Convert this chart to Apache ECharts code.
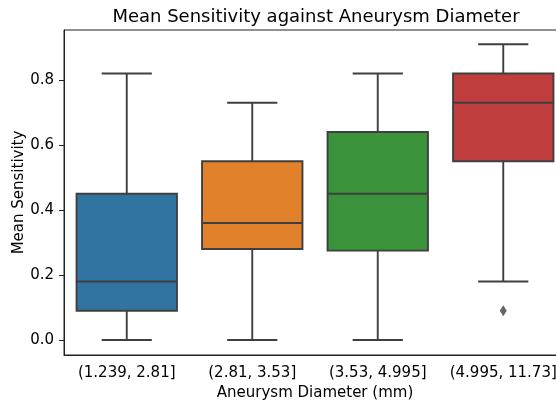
<!DOCTYPE html>
<html>
<head>
<meta charset="utf-8">
<script src="https://cdn.jsdelivr.net/npm/echarts@6/dist/echarts.min.js"></script>
<style>html,body{margin:0;padding:0;background:#fff}#c{width:556px;height:403px}</style>
</head>
<body>
<div id="c"></div>
<script>
const categories = ['(1.239, 2.81]', '(2.81, 3.53]', '(3.53, 4.995]', '(4.995, 11.73]'];
const whiskerLow  = [0.0, 0.0, 0.0, 0.18];
const q1          = [0.09, 0.28, 0.275, 0.55];
const median      = [0.18, 0.36, 0.45, 0.73];
const q3          = [0.45, 0.55, 0.64, 0.82];
const whiskerHigh = [0.82, 0.73, 0.82, 0.91];
const outliers    = [[3, 0.09]];
const yTicks      = [0.0, 0.2, 0.4, 0.6, 0.8];
const boxColors   = ['#3274a1', '#e1812c', '#3a923a', '#c03d3e'];

const lineColor = '#3f3f3f';
const font = 'DejaVu Sans';

const boxData = categories.map((c, i) => [i, whiskerLow[i], q1[i], median[i], q3[i], whiskerHigh[i]]);

const chart = echarts.init(document.getElementById('c'), null, {renderer: 'canvas'});
chart.setOption({
  animation: false,
  backgroundColor: '#fff',
  title: {
    text: 'Mean Sensitivity against Aneurysm Diameter',
    left: 311, top: 3, textAlign: 'center',
    textStyle: {fontFamily: font, fontSize: 18, fontWeight: 'normal', color: '#000'}
  },
  grid: {left: 64, top: 30, width: 502, height: 325, outerBoundsMode: 'none', containLabel: false,
    show: true, borderColor: '#222', borderWidth: 1, backgroundColor: 'transparent'},
  xAxis: {
    type: 'category', data: categories, boundaryGap: true,
    name: 'Aneurysm Diameter (mm)', nameLocation: 'middle', nameGap: 31, nameMoveOverlap: false,
    nameTextStyle: {fontFamily: font, fontSize: 15, color: '#000'},
    axisLine: {onZero: false, lineStyle: {color: '#222', width: 1}},
    axisTick: {alignWithLabel: true, length: 5, lineStyle: {color: '#222'}},
    axisLabel: {fontFamily: font, fontSize: 15, color: '#000', margin: 11, interval: 0},
    splitLine: {show: false}
  },
  yAxis: {
    type: 'value', min: -0.04615, max: 0.9538,
    name: 'Mean Sensitivity', nameLocation: 'middle', nameGap: 37, nameMoveOverlap: false,
    nameTextStyle: {fontFamily: font, fontSize: 15, color: '#000'},
    axisLine: {show: true, onZero: false, lineStyle: {color: '#222', width: 1}},
    axisTick: {show: true, length: 5, lineStyle: {color: '#222'}, customValues: yTicks},
    axisLabel: {fontFamily: font, fontSize: 15, color: '#000', margin: 10, customValues: yTicks,
      formatter: v => v.toFixed(1)},
    splitLine: {show: false}
  },
  series: [
    {
      type: 'custom',
      data: boxData,
      encode: {x: 0, y: [1, 2, 3, 4, 5]},
      renderItem: function (params, api) {
        const i = api.value(0);
        const pLow = api.coord([i, api.value(1)]);
        const pQ1 = api.coord([i, api.value(2)]);
        const pMed = api.coord([i, api.value(3)]);
        const pQ3 = api.coord([i, api.value(4)]);
        const pHigh = api.coord([i, api.value(5)]);
        const band = api.size([1, 0])[0];
        const bw = band * 0.8;
        const cx = pMed[0];
        const ls = {stroke: lineColor, lineWidth: 1.9};
        return {
          type: 'group',
          children: [
            {type: 'line', shape: {x1: cx, y1: pQ3[1], x2: cx, y2: pHigh[1]}, style: ls},
            {type: 'line', shape: {x1: cx, y1: pQ1[1], x2: cx, y2: pLow[1]}, style: ls},
            {type: 'line', shape: {x1: cx - bw / 4, y1: pHigh[1], x2: cx + bw / 4, y2: pHigh[1]}, style: ls},
            {type: 'line', shape: {x1: cx - bw / 4, y1: pLow[1], x2: cx + bw / 4, y2: pLow[1]}, style: ls},
            {type: 'rect', shape: {x: cx - bw / 2, y: pQ3[1], width: bw, height: pQ1[1] - pQ3[1]},
              style: {fill: boxColors[i], stroke: lineColor, lineWidth: 1.9}},
            {type: 'line', shape: {x1: cx - bw / 2, y1: pMed[1], x2: cx + bw / 2, y2: pMed[1]}, style: ls}
          ]
        };
      }
    },
    {
      type: 'scatter',
      data: outliers,
      symbol: 'diamond',
      symbolSize: [7, 11],
      itemStyle: {color: lineColor}
    }
  ]
});
</script>
</body>
</html>
